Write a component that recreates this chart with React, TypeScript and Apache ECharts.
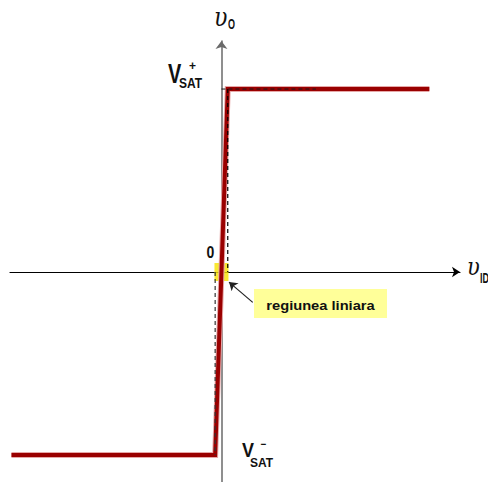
import React, { useEffect, useRef } from "react";
import * as echarts from "echarts";

// Transfer characteristic of an op-amp: output voltage vs differential input
const VID_POINTS = [-10, -0.3, 0.3, 9.9];
const VO_POINTS = [-12, -12, 12, 12];
const VSAT_POS = 12;
const VSAT_NEG = -12;
const LINEAR_EDGE = 0.3;

// Callout arrow from the note box to the linear region
const ARROW_FROM = [1.49, -1.99];
const ARROW_TO = [0.36, -0.66];

const NOTE_TEXT = "regiunea liniara";

const X_MIN = -10.07;
const X_MAX = 11.36;
const Y_MIN = -13.77;
const Y_MAX = 15.15;

const RED = "#9a0000";

export default function App() {
  const ref = useRef<HTMLDivElement>(null);

  useEffect(() => {
    if (!ref.current) return;
    const chart = echarts.init(ref.current, null, { renderer: "svg" });

    const curve = VID_POINTS.map((x, i) => [x, VO_POINTS[i]]);

    const labelFont = '"Liberation Sans", Arial, sans-serif';
    const mathFont = '"DejaVu Serif", "Liberation Serif", serif';

    const txt = (
      text: string,
      x: number,
      y: number,
      font: string,
      sx: number,
      sy: number,
      align: string = "left",
      fill: string = "#111"
    ) => ({
      type: "text",
      x,
      y,
      scaleX: sx,
      scaleY: sy,
      z: 50,
      style: { text, font, fill, align, verticalAlign: "middle" },
    });

    chart.setOption({
      animation: false,
      backgroundColor: "#ffffff",
      grid: { left: 10, right: 28, top: 41, bottom: 0 },
      xAxis: {
        type: "value",
        min: X_MIN,
        max: X_MAX,
        axisLine: {
          onZero: true,
          symbol: ["none", "arrow"],
          symbolSize: [8, 8],
          lineStyle: { color: "#000", width: 1.2 },
        },
        axisTick: { show: false },
        axisLabel: { show: false },
        splitLine: { show: false },
      },
      yAxis: {
        type: "value",
        min: Y_MIN,
        max: Y_MAX,
        axisLine: {
          onZero: true,
          symbol: ["none", "arrow"],
          symbolSize: [9, 8],
          lineStyle: { color: "#6a6a6a", width: 1.5 },
        },
        axisTick: { show: false },
        axisLabel: { show: false },
        splitLine: { show: false },
      },
      series: [
        {
          // highlight of the linear region around the origin
          type: "scatter",
          z: 1,
          data: [[0, 0]],
          symbol: "rect",
          symbolSize: [14, 18],
          itemStyle: { color: "#f7e200" },
          silent: true,
        },
        {
          type: "line",
          z: 2,
          data: curve,
          showSymbol: false,
          lineStyle: { color: "#e6a8a8", width: 6, join: "miter" },
          silent: true,
        },
        {
          type: "line",
          z: 3,
          data: curve,
          showSymbol: false,
          lineStyle: { color: RED, width: 4, join: "miter" },
          silent: true,
        },
        {
          type: "line",
          z: 4,
          data: [
            [0, VSAT_POS],
            [4.5, VSAT_POS],
          ],
          showSymbol: false,
          lineStyle: { color: "#1a1a1a", width: 1, type: [4, 3] },
          silent: true,
        },
        {
          type: "line",
          z: 4,
          data: [
            [LINEAR_EDGE, VSAT_POS],
            [LINEAR_EDGE, 0],
          ],
          showSymbol: false,
          lineStyle: { color: "#000", width: 1.2, type: [4, 3] },
          silent: true,
        },
        {
          type: "line",
          z: 4,
          data: [
            [-LINEAR_EDGE, 0],
            [-LINEAR_EDGE, VSAT_NEG],
          ],
          showSymbol: false,
          lineStyle: { color: "#333", width: 1.2, type: [4, 3] },
          silent: true,
        },
        {
          type: "lines",
          coordinateSystem: "cartesian2d",
          z: 5,
          symbol: ["none", "arrow"],
          symbolSize: 8,
          lineStyle: { color: "#222", width: 1.2, opacity: 1 },
          data: [{ coords: [ARROW_FROM, ARROW_TO] }],
          silent: true,
        },
      ],
      graphic: [
        // axis names
        txt("υ", 214, 17, `italic 22px ${mathFont}`, 1, 1.15),
        txt("O", 228, 24, `bold 10px ${labelFont}`, 0.9, 1.5),
        txt("υ", 467, 266, `italic 21px ${mathFont}`, 1, 1.15),
        txt("ID", 480, 278, `bold 10px ${labelFont}`, 0.9, 1.4),
        // origin
        txt("0", 206.5, 252.5, `bold 14px ${labelFont}`, 1, 1.2),
        // positive saturation
        txt("V", 168, 73, `bold 19px ${labelFont}`, 1.05, 1.45),
        txt("+", 192.5, 66, `bold 12px ${labelFont}`, 1, 1.1, "center"),
        txt("SAT", 179, 83, `bold 12px ${labelFont}`, 1, 1.2),
        // negative saturation
        txt("V", 242, 449.5, `bold 18px ${labelFont}`, 1, 1.15),
        txt("−", 263.5, 444.5, `bold 11px ${labelFont}`, 0.9, 1, "center"),
        txt("SAT", 250, 462.5, `bold 12px ${labelFont}`, 1, 1.1),
        // note box
        {
          type: "rect",
          z: 40,
          shape: { x: 254, y: 289, width: 133, height: 29 },
          style: { fill: "#ffff99" },
        },
        txt(NOTE_TEXT, 320.5, 305, `bold 13px ${labelFont}`, 1.13, 1.05, "center", "#111"),
      ],
    });

    return () => chart.dispose();
  }, []);

  return (
    <div
      ref={ref}
      style={{
        position: "fixed",
        left: 0,
        top: 0,
        width: 488,
        height: 482,
        background: "#fff",
      }}
    />
  );
}
